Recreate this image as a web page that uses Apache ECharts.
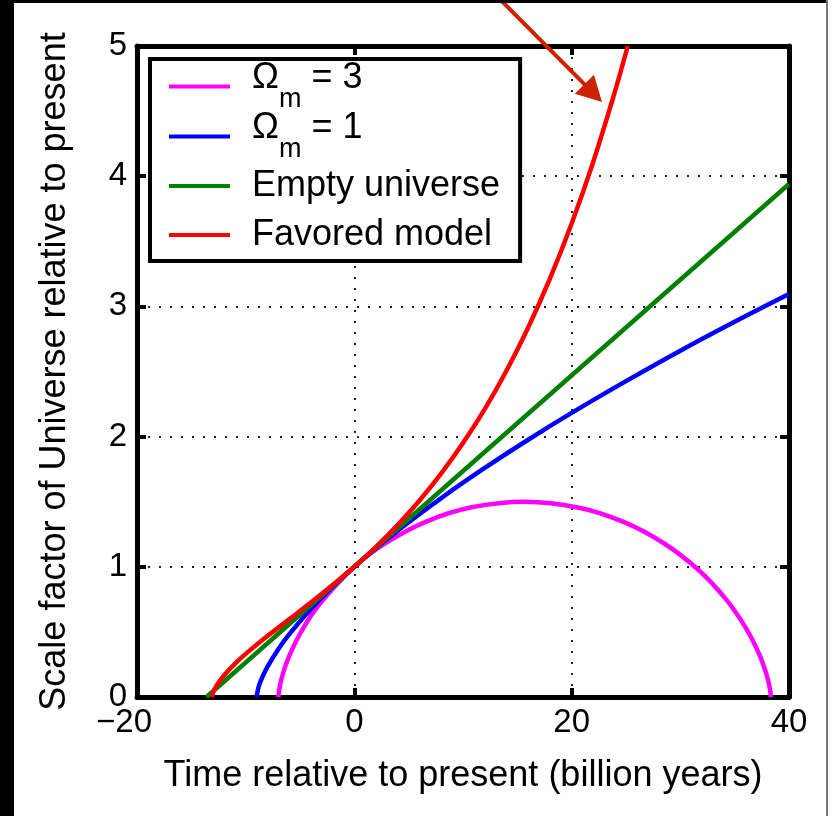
<!DOCTYPE html>
<html><head><meta charset="utf-8">
<script src="https://cdn.jsdelivr.net/npm/echarts@6/dist/echarts.min.js"></script>
<style>
html,body{margin:0;padding:0;background:#fff;}
#chart{position:absolute;left:0;top:0;width:832px;height:816px;}
.edge{position:absolute;background:#000;}
</style></head><body>
<div id="chart"></div>
<div class="edge" style="left:0;top:0;width:14px;height:816px"></div>
<div class="edge" style="left:0;top:0;width:828px;height:3px"></div>
<div class="edge" style="left:826px;top:0;width:2px;height:816px;background:#777"></div>
<script>
const FONT = '"Liberation Sans", Arial, Helvetica, sans-serif';

// Axis ranges / ticks
const X_RANGE = [-20, 40];
const X_STEP = 20;
const Y_RANGE = [0, 5];
const Y_STEP = 1;

// Series names (legend)
const NAMES = ['Ωm = 3', 'Ωm = 1', 'Empty universe', 'Favored model'];
const COLORS = ['#ff00ff', '#0000ff', '#008000', '#ff0000'];

// Ω_m = 3 (recollapsing)
const tOm3 = [-6.98, -6.95, -6.73, -6.14, -5.05, -3.36, 0, 3.05, 6.73, 10.79, 15.67, 20.78, 24.83, 28.48, 31.6, 34.12, 35.98, 37.23, 37.95, 38.26, 38.32];
const aOm3 = [0, 0.034, 0.131, 0.284, 0.478, 0.697, 1.0, 1.191, 1.351, 1.457, 1.5, 1.452, 1.343, 1.181, 0.981, 0.759, 0.537, 0.334, 0.168, 0.054, 0];

// Ω_m = 1
const tOm1 = [-9, -8.8, -8.5, -8, -7, -6, -4, -2, 0, 4, 8, 12, 16, 20, 25, 30, 35, 40];
const aOm1 = [0, 0.079, 0.146, 0.231, 0.367, 0.481, 0.676, 0.846, 1.0, 1.278, 1.528, 1.759, 1.976, 2.182, 2.426, 2.66, 2.882, 3.095];

// Empty universe
const tEmpty = [-13.6, 0, 40];
const aEmpty = [0, 1.0, 3.94];

// Favored model
const tFav = [-13.11, -13.0, -12.6, -12, -11, -10, -8, -6, -4, -2, 0, 2, 4, 6, 8, 10, 12, 14, 16, 18, 20, 22, 24, 25.16];
const aFav = [0, 0.035, 0.098, 0.165, 0.254, 0.331, 0.468, 0.596, 0.725, 0.86, 1.0, 1.153, 1.322, 1.509, 1.717, 1.95, 2.211, 2.506, 2.838, 3.213, 3.636, 4.114, 4.655, 5.0];

// Annotation arrow (data coordinates)
const ARROW_FROM = [13.15, 5.38];
const ARROW_TO = [22.79, 4.57];

const zip = (xs, ys) => xs.map((x, i) => [x, ys[i]]);
const SERIES_DATA = [zip(tOm3, aOm3), zip(tOm1, aOm1), zip(tEmpty, aEmpty), zip(tFav, aFav)];

const chart = echarts.init(document.getElementById('chart'), null, {renderer: 'canvas'});

const fmtTick = v => v < 0 ? '{m|\u2212' + Math.abs(v) + '}' : String(v);
const axisLine = {show: true, onZero: false, lineStyle: {color: '#000', width: 5}};
const axisTick = {show: true, inside: true, length: 9, lineStyle: {color: '#000', width: 4}};
const splitLine = {show: true, lineStyle: {color: '#222', width: 2, type: [2, 9]}};
const CLEAR = 'rgba(255,255,255,0)';

chart.setOption({
  animation: false,
  backgroundColor: '#fff',
  grid: {left: 137, right: 43, top: 46, bottom: 119, containLabel: false},
  legend: {
    orient: 'vertical',
    left: 150, top: 59,
    padding: [1, 20, 0, 19],
    itemGap: -3,
    itemWidth: 61,
    itemHeight: 4,
    icon: 'rect',
    backgroundColor: '#fff',
    borderColor: '#000',
    borderWidth: 4,
    borderRadius: 0,
    data: NAMES,
    formatter: name => {
      if (name.indexOf('Ωm') === 0) {
        return '{o0|Ω}{s|m}{o| = ' + name.split('= ')[1] + '}';
      }
      return '{p|' + name + '}';
    },
    textStyle: {
      fontFamily: FONT, color: '#000', fontSize: 36,
      rich: {
        o0: {fontFamily: FONT, fontSize: 36, verticalAlign: 'top', padding: [0, 0, 0, 17]},
        o: {fontFamily: FONT, fontSize: 36, verticalAlign: 'top'},
        s: {fontFamily: FONT, fontSize: 27, verticalAlign: 'bottom', padding: [26, 0, 0, 0], backgroundColor: CLEAR},
        p: {fontFamily: FONT, fontSize: 36, padding: [8, 0, 8, 17], backgroundColor: CLEAR}
      }
    }
  },
  xAxis: [{
    type: 'value', position: 'bottom',
    min: X_RANGE[0], max: X_RANGE[1], interval: X_STEP,
    name: 'Time relative to present (billion years)',
    nameLocation: 'middle', nameGap: 61,
    nameTextStyle: {fontFamily: FONT, fontSize: 36, color: '#000'},
    axisLine, axisTick, splitLine,
    axisLabel: {formatter: fmtTick, fontFamily: FONT, fontSize: 33, color: '#000', margin: 9,
      rich: {m: {fontFamily: FONT, fontSize: 33, color: '#000', padding: [0, 26, 0, 0]}}}
  }, {
    type: 'value', position: 'top',
    min: X_RANGE[0], max: X_RANGE[1], interval: X_STEP,
    axisLine, axisTick, splitLine: {show: false}, axisLabel: {show: false}
  }],
  yAxis: [{
    type: 'value', position: 'left',
    min: Y_RANGE[0], max: Y_RANGE[1], interval: Y_STEP,
    name: 'Scale factor of Universe relative to present',
    nameLocation: 'middle', nameGap: 64,
    nameTextStyle: {fontFamily: FONT, fontSize: 36, color: '#000'},
    axisLine, axisTick, splitLine,
    axisLabel: {fontFamily: FONT, fontSize: 33, color: '#000', margin: 10}
  }, {
    type: 'value', position: 'right',
    min: Y_RANGE[0], max: Y_RANGE[1], interval: Y_STEP,
    axisLine, axisTick, splitLine: {show: false}, axisLabel: {show: false}
  }],
  series: NAMES.map((n, i) => ({
    type: 'line', name: n,
    xAxisIndex: 0, yAxisIndex: 0,
    data: SERIES_DATA[i],
    symbol: 'none', showSymbol: false,
    smooth: i === 2 ? false : 0.35,
    clip: true,
    color: COLORS[i],
    lineStyle: {color: COLORS[i], width: 4.5},
    itemStyle: {color: COLORS[i]},
    z: 2 + i
  }))
});

// Arrow annotation
const p0 = chart.convertToPixel({xAxisIndex: 0, yAxisIndex: 0}, ARROW_FROM);
const p1 = chart.convertToPixel({xAxisIndex: 0, yAxisIndex: 0}, ARROW_TO);
const dx = p1[0] - p0[0], dy = p1[1] - p0[1];
const len = Math.sqrt(dx * dx + dy * dy);
const ux = dx / len, uy = dy / len;
const HL = 25, HW = 13.5;
const base = [p1[0] - ux * HL, p1[1] - uy * HL];
const left = [base[0] - uy * HW, base[1] + ux * HW];
const right = [base[0] + uy * HW, base[1] - ux * HW];
chart.setOption({
  graphic: [
    {type: 'line', z: 100, shape: {x1: p0[0], y1: p0[1], x2: base[0] + ux * 2, y2: base[1] + uy * 2}, style: {stroke: '#cc2200', lineWidth: 4}},
    {type: 'polygon', z: 100, shape: {points: [p1, left, right]}, style: {fill: '#cc2200'}}
  ]
});
</script>
</body></html>
